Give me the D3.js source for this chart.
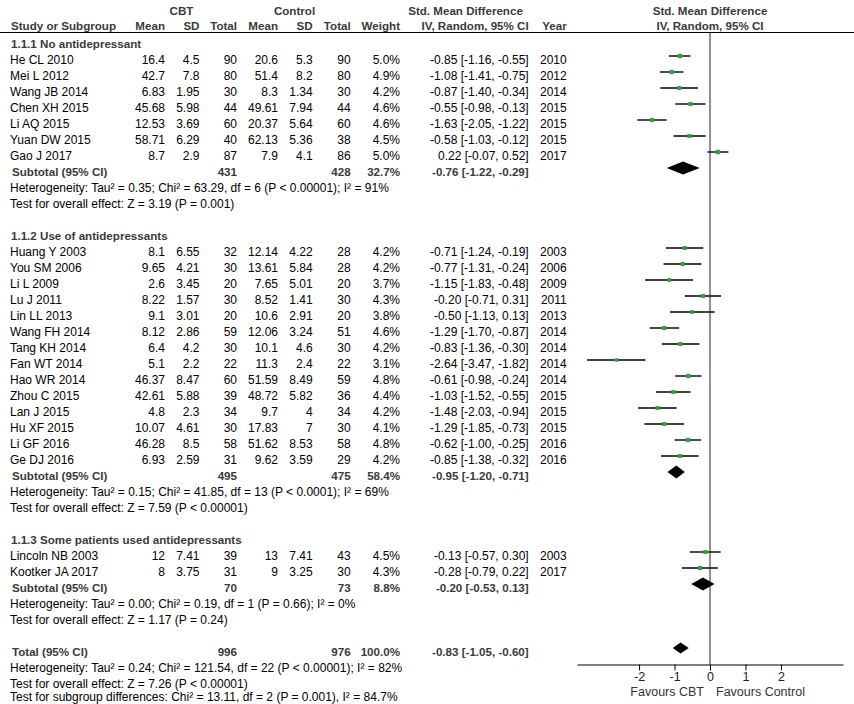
<!DOCTYPE html>
<html><head><meta charset="utf-8">
<script src="https://cdn.jsdelivr.net/npm/d3@7"></script>
<style>
body{margin:0;background:#fff;}
svg text{font-family:Arial,"Liberation Sans",sans-serif;}
</style></head>
<body><svg id="c" width="854" height="704"></svg>
<script>
// ---------- DATA ----------
const groupTitles = ["1.1.1 No antidepressant","1.1.2 Use of antidepressants","1.1.3 Some patients used antidepressants"];
// [study, cbtMean, cbtSD, cbtTotal, ctlMean, ctlSD, ctlTotal, weight, smd, lo, hi, year]
const group1 = [
 ["He CL 2010",16.4,4.5,90,20.6,5.3,90,5.0,-0.85,-1.16,-0.55,2010],
 ["Mei L 2012",42.7,7.8,80,51.4,8.2,80,4.9,-1.08,-1.41,-0.75,2012],
 ["Wang JB 2014",6.83,1.95,30,8.3,1.34,30,4.2,-0.87,-1.40,-0.34,2014],
 ["Chen XH 2015",45.68,5.98,44,49.61,7.94,44,4.6,-0.55,-0.98,-0.13,2015],
 ["Li AQ 2015",12.53,3.69,60,20.37,5.64,60,4.6,-1.63,-2.05,-1.22,2015],
 ["Yuan DW 2015",58.71,6.29,40,62.13,5.36,38,4.5,-0.58,-1.03,-0.12,2015],
 ["Gao J 2017",8.7,2.9,87,7.9,4.1,86,5.0,0.22,-0.07,0.52,2017]
];
const group2 = [
 ["Huang Y 2003",8.1,6.55,32,12.14,4.22,28,4.2,-0.71,-1.24,-0.19,2003],
 ["You SM 2006",9.65,4.21,30,13.61,5.84,28,4.2,-0.77,-1.31,-0.24,2006],
 ["Li L 2009",2.6,3.45,20,7.65,5.01,20,3.7,-1.15,-1.83,-0.48,2009],
 ["Lu J 2011",8.22,1.57,30,8.52,1.41,30,4.3,-0.20,-0.71,0.31,2011],
 ["Lin LL 2013",9.1,3.01,20,10.6,2.91,20,3.8,-0.50,-1.13,0.13,2013],
 ["Wang FH 2014",8.12,2.86,59,12.06,3.24,51,4.6,-1.29,-1.70,-0.87,2014],
 ["Tang KH 2014",6.4,4.2,30,10.1,4.6,30,4.2,-0.83,-1.36,-0.30,2014],
 ["Fan WT 2014",5.1,2.2,22,11.3,2.4,22,3.1,-2.64,-3.47,-1.82,2014],
 ["Hao WR 2014",46.37,8.47,60,51.59,8.49,59,4.8,-0.61,-0.98,-0.24,2014],
 ["Zhou C 2015",42.61,5.88,39,48.72,5.82,36,4.4,-1.03,-1.52,-0.55,2015],
 ["Lan J 2015",4.8,2.3,34,9.7,4,34,4.2,-1.48,-2.03,-0.94,2015],
 ["Hu XF 2015",10.07,4.61,30,17.83,7,30,4.1,-1.29,-1.85,-0.73,2015],
 ["Li GF 2016",46.28,8.5,58,51.62,8.53,58,4.8,-0.62,-1.00,-0.25,2016],
 ["Ge DJ 2016",6.93,2.59,31,9.62,3.59,29,4.2,-0.85,-1.38,-0.32,2016]
];
const group3 = [
 ["Lincoln NB 2003",12,7.41,39,13,7.41,43,4.5,-0.13,-0.57,0.30,2003],
 ["Kootker JA 2017",8,3.75,31,9,3.25,30,4.3,-0.28,-0.79,0.22,2017]
];
// [label, cbtTotal, ctlTotal, weight, smd, lo, hi]
const subtotals = [
 ["Subtotal (95% CI)",431,428,32.7,-0.76,-1.22,-0.29],
 ["Subtotal (95% CI)",495,475,58.4,-0.95,-1.20,-0.71],
 ["Subtotal (95% CI)",70,73,8.8,-0.20,-0.53,0.13]
];
const heterogeneity = [
 "Heterogeneity: Tau² = 0.35; Chi² = 63.29, df = 6 (P < 0.00001); I² = 91%",
 "Heterogeneity: Tau² = 0.15; Chi² = 41.85, df = 13 (P < 0.0001); I² = 69%",
 "Heterogeneity: Tau² = 0.00; Chi² = 0.19, df = 1 (P = 0.66); I² = 0%"
];
const overallEffect = [
 "Test for overall effect: Z = 3.19 (P = 0.001)",
 "Test for overall effect: Z = 7.59 (P < 0.00001)",
 "Test for overall effect: Z = 1.17 (P = 0.24)"
];
const total = ["Total (95% CI)",996,976,100.0,-0.83,-1.05,-0.60];
const totalNotes = [
 "Heterogeneity: Tau² = 0.24; Chi² = 121.54, df = 22 (P < 0.00001); I² = 82%",
 "Test for overall effect: Z = 7.26 (P < 0.00001)",
 "Test for subgroup differences: Chi² = 13.11, df = 2 (P = 0.001), I² = 84.7%"
];
const axisTicks = [-2,-1,0,1,2];
const axisDomain = [-3.75, 3.75];
const favourLabels = ["Favours CBT","Favours Control"];
const headerTop = ["CBT","Control","Std. Mean Difference","Std. Mean Difference"];
const headerCols = ["Study or Subgroup","Mean","SD","Total","Mean","SD","Total","Weight","IV, Random, 95% CI","Year"];

// ---------- LAYOUT ----------
const svg = d3.select("#c");
const FS = 12, FSB = 11.6;
const TXT = "#000", BTXT = "#3a3a3a";
const rowH = 16, row0 = 47.5;          // baseline of row 0
const markOff = -7.5;                   // marker centre relative to baseline
const colRight = [null,165,199.5,237,278,312.7,350.7,400,528.7,566.7];
const leftX = 10;

const x = d3.scaleLinear().domain(axisDomain).range([577,843]);
const sizeScale = d3.scaleSqrt().domain([0,5]).range([0,4.4]);
const ciText = (m,l,h)=>`${m.toFixed(2)} [${l.toFixed(2)}, ${h.toFixed(2)}]`;

function txt(xp,y,s,opt={}){
  return svg.append("text").attr("x",xp).attr("y",y).text(s)
    .attr("font-size",opt.bold?FSB:FS)
    .attr("font-weight",opt.bold?"bold":"normal")
    .attr("fill",opt.bold?BTXT:TXT)
    .attr("text-anchor",opt.anchor||"start");
}

// header
txt(181.5,15,headerTop[0],{bold:true,anchor:"middle"});
txt(294.5,15,headerTop[1],{bold:true,anchor:"middle"});
txt(465.5,15,headerTop[2],{bold:true,anchor:"middle"});
txt(x(0),15,headerTop[3],{bold:true,anchor:"middle"});
headerCols.forEach((h,i)=>{
  if(i===0) txt(leftX+1,30,h,{bold:true});
  else txt(colRight[i],30,h,{bold:true,anchor:"end"});
});
txt(x(0),30,"IV, Random, 95% CI",{bold:true,anchor:"middle"});
svg.append("line").attr("x1",0).attr("x2",854).attr("y1",32.5).attr("y2",32.5)
  .attr("stroke","#000").attr("stroke-width",1);

// rows
const groups = [group1,group2,group3];
let k = 0;
const plotG = svg.append("g");
function diamond(d,yb,hh){
  const yc = yb+markOff;
  plotG.append("path").attr("d",
    `M${x(d[5])},${yc}L${x(d[4])},${yc-hh}L${x(d[6])},${yc}L${x(d[4])},${yc+hh}Z`)
    .attr("fill","#000");
}
groups.forEach((g,gi)=>{
  txt(leftX+1,row0+rowH*k,groupTitles[gi],{bold:true}); k++;
  g.forEach(r=>{
    const yb = row0+rowH*k;
    txt(leftX,yb,r[0]);
    for(let c=1;c<=6;c++) txt(colRight[c],yb,String(r[c]),{anchor:"end"});
    txt(colRight[7],yb,r[7].toFixed(1)+"%",{anchor:"end"});
    txt(colRight[8],yb,ciText(r[8],r[9],r[10]),{anchor:"end"});
    txt(colRight[9],yb,String(r[11]),{anchor:"end"});
    const yc = yb+markOff;
    plotG.append("line").attr("x1",x(r[9])).attr("x2",x(r[10])).attr("y1",yc).attr("y2",yc)
      .attr("stroke","#000").attr("stroke-width",1.4);
    const s = sizeScale(r[7]);
    plotG.append("rect").attr("x",x(r[8])-s/2).attr("y",yc-s/2).attr("width",s).attr("height",s)
      .attr("fill","#3c9e46");
    k++;
  });
  const st = subtotals[gi], yb = row0+rowH*k;
  txt(leftX+2,yb,st[0],{bold:true});
  txt(colRight[3],yb,String(st[1]),{bold:true,anchor:"end"});
  txt(colRight[6],yb,String(st[2]),{bold:true,anchor:"end"});
  txt(colRight[7],yb,st[3].toFixed(1)+"%",{bold:true,anchor:"end"});
  txt(colRight[8],yb,ciText(st[4],st[5],st[6]),{bold:true,anchor:"end"});
  diamond(st,yb,6.5);
  k++;
  txt(leftX,row0+rowH*k,heterogeneity[gi]); k++;
  txt(leftX,row0+rowH*k,overallEffect[gi]); k++;
  k++;
});
{
  const yb = row0+rowH*k;
  txt(leftX+2,yb,total[0],{bold:true});
  txt(colRight[3],yb,String(total[1]),{bold:true,anchor:"end"});
  txt(colRight[6],yb,String(total[2]),{bold:true,anchor:"end"});
  txt(colRight[7],yb,total[3].toFixed(1)+"%",{bold:true,anchor:"end"});
  txt(colRight[8],yb,ciText(total[4],total[5],total[6]),{bold:true,anchor:"end"});
  diamond(total,yb,5.5);
  k++;
  totalNotes.forEach((t,i)=>{
    const yb2 = Math.min(row0+rowH*k, 700.5);
    txt(leftX,yb2,t); k++;
  });
}

// zero line & axis
const axisY = 664.5;
svg.append("line").attr("x1",x(0)).attr("x2",x(0)).attr("y1",32.5).attr("y2",axisY)
  .attr("stroke","#222").attr("stroke-width",1);
const ax = svg.append("g").attr("transform",`translate(0,${axisY})`)
  .call(d3.axisBottom(x).tickValues(axisTicks).tickSize(6).tickSizeOuter(0).tickFormat(d=>String(d)));
ax.select(".domain").attr("stroke","#000");
ax.selectAll(".tick line").attr("stroke","#000");
ax.selectAll(".tick text").attr("font-size",12.5).attr("fill","#222")
  .attr("font-family","Arial,'Liberation Sans',sans-serif").attr("dy","0.9em").attr("y",5);
txt(x(0)-6,695.5,favourLabels[0],{anchor:"end"}).attr("fill","#333").attr("font-size",12.5);
txt(x(0)+6,695.5,favourLabels[1]).attr("fill","#333").attr("font-size",12.5);
</script></body></html>
